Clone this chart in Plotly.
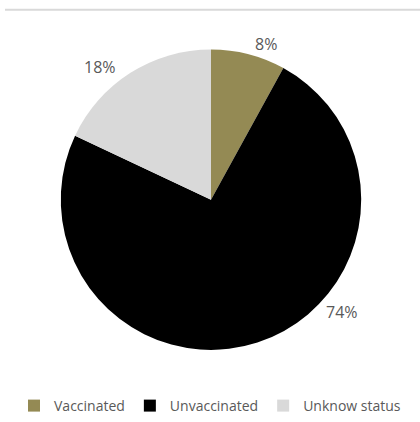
import plotly.graph_objects as go

categories = ["Vaccinated", "Unvaccinated", "Unknow status"]
values = [8, 74, 18]
colors = ["#948A54", "#000000", "#D9D9D9"]

# label anchor positions (pixels from top-left), styling only
label_pos = [(266, 45), (342, 322), (100, 69)]

W, H = 420, 422
cx, cy, r = 211, 206, 155
FONT = "Open Sans, Lato, sans-serif"
TXT = "#595959"

fig = go.Figure(go.Pie(
    labels=categories,
    values=values,
    sort=False,
    direction="clockwise",
    rotation=0,
    marker=dict(colors=colors, line=dict(width=0)),
    textinfo="none",
    hole=0,
    domain=dict(x=[(cx - r) / W, (cx + r) / W], y=[(H - cy - r) / H, (H - cy + r) / H]),
    showlegend=True,
))

total = sum(values)
annotations = []
for v, (px, py) in zip(values, label_pos):
    annotations.append(dict(
        x=px / W, y=1 - py / H, xref="paper", yref="paper",
        text=f"{round(100 * v / total)}%", showarrow=False,
        xanchor="center", yanchor="middle",
        font=dict(family=FONT, size=16, color=TXT),
    ))

fig.update_layout(
    width=W, height=H,
    margin=dict(l=0, r=0, t=0, b=0),
    paper_bgcolor="white",
    plot_bgcolor="white",
    font=dict(family=FONT, size=14, color=TXT),
    legend=dict(orientation="h", x=0.5, xanchor="center", y=(H - 419) / H, yanchor="middle",
                font=dict(family=FONT, size=14, color=TXT), itemwidth=30,
                traceorder="normal", tracegroupgap=0),
    annotations=annotations,
    shapes=[dict(type="line", xref="paper", yref="paper", x0=5 / W, x1=1, y0=1 - 10 / H, y1=1 - 10 / H,
                 line=dict(color="#D9D9D9", width=2))],
)

fig.write_html("out.html", config={"displayModeBar": False},
               post_script="document.body.style.margin='0';document.body.style.overflow='hidden';")
